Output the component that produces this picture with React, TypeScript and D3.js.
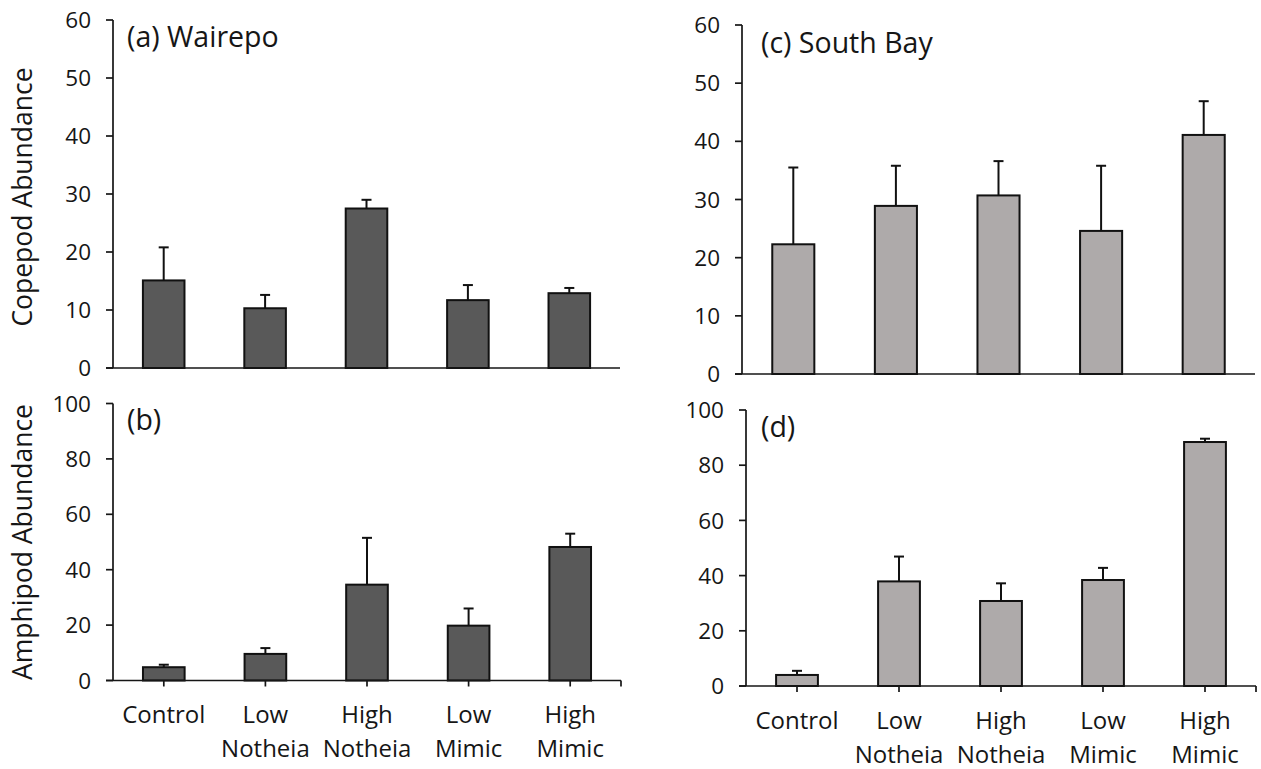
import React from "react";
import * as d3 from "d3";

// Treatment categories (two-line tick labels)
const categories = ["Control", "Low Notheia", "High Notheia", "Low Mimic", "High Mimic"];
const categoryLines = [["Control"], ["Low", "Notheia"], ["High", "Notheia"], ["Low", "Mimic"], ["High", "Mimic"]];

// Wairepo – copepod abundance (mean, +SE)
const wairepoCopepod = [15.1, 10.3, 27.5, 11.7, 12.9];
const wairepoCopepodErr = [5.7, 2.3, 1.5, 2.6, 0.9];

// Wairepo – amphipod abundance (mean, +SE)
const wairepoAmphipod = [4.8, 9.6, 34.6, 19.8, 48.2];
const wairepoAmphipodErr = [0.9, 2.1, 16.9, 6.2, 4.8];

// South Bay – copepod abundance (mean, +SE)
const southBayCopepod = [22.3, 28.9, 30.7, 24.6, 41.1];
const southBayCopepodErr = [13.2, 6.9, 5.9, 11.2, 5.8];

// South Bay – amphipod abundance (mean, +SE)
const southBayAmphipod = [4.0, 37.9, 30.8, 38.4, 88.4];
const southBayAmphipodErr = [1.5, 9.0, 6.4, 4.4, 1.2];

// Y-axis tick values
const copepodTicks = [0, 10, 20, 30, 40, 50, 60];
const amphipodTicks = [0, 20, 40, 60, 80, 100];

const FONT = "'Open Sans', 'Noto Sans', sans-serif";
const INK = "#161616";
const DARK_FILL = "#595959";
const LIGHT_FILL = "#aeaaaa";

type PanelSpec = {
  label: string;
  values: number[];
  errors: number[];
  ticks: number[];
  fill: string;
  x0: number;
  x1: number;
  yTop: number;
  yBottom: number;
  labelX: number;
  labelY: number;
  showCategories: boolean;
  catBaseline: number;
};

const panels: PanelSpec[] = [
  {
    label: "(a) Wairepo", values: wairepoCopepod, errors: wairepoCopepodErr, ticks: copepodTicks,
    fill: DARK_FILL, x0: 113, x1: 620, yTop: 20, yBottom: 368, labelX: 127, labelY: 47,
    showCategories: false, catBaseline: 0,
  },
  {
    label: "(b)", values: wairepoAmphipod, errors: wairepoAmphipodErr, ticks: amphipodTicks,
    fill: DARK_FILL, x0: 113, x1: 621, yTop: 403.5, yBottom: 680.5, labelX: 127, labelY: 430,
    showCategories: true, catBaseline: 723,
  },
  {
    label: "(c) South Bay", values: southBayCopepod, errors: southBayCopepodErr, ticks: copepodTicks,
    fill: LIGHT_FILL, x0: 742, x1: 1255, yTop: 25, yBottom: 374, labelX: 761, labelY: 53,
    showCategories: false, catBaseline: 0,
  },
  {
    label: "(d)", values: southBayAmphipod, errors: southBayAmphipodErr, ticks: amphipodTicks,
    fill: LIGHT_FILL, x0: 746, x1: 1256, yTop: 410, yBottom: 686, labelX: 761, labelY: 437,
    showCategories: true, catBaseline: 729,
  },
];

function Panel({ p }: { p: PanelSpec }) {
  const x = d3.scaleBand<string>()
    .domain(categories)
    .range([p.x0, p.x1])
    .paddingInner(0.59)
    .paddingOuter(0.295);
  const y = d3.scaleLinear()
    .domain([0, p.ticks[p.ticks.length - 1]])
    .range([p.yBottom, p.yTop]);
  const bw = x.bandwidth();
  const capHalf = 5;

  return (
    <g>
      {/* bars */}
      {categories.map((c, i) => (
        <rect
          key={c}
          x={x(c)!}
          y={y(p.values[i])}
          width={bw}
          height={y(0) - y(p.values[i])}
          fill={p.fill}
          stroke="#111"
          strokeWidth={2}
        />
      ))}
      {/* upper error bars */}
      {categories.map((c, i) => {
        const cx = x(c)! + bw / 2;
        const top = y(p.values[i] + p.errors[i]);
        return (
          <g key={c + "-err"} stroke="#111" strokeWidth={2}>
            <line x1={cx} x2={cx} y1={y(p.values[i])} y2={top} />
            <line x1={cx - capHalf} x2={cx + capHalf} y1={top} y2={top} />
          </g>
        );
      })}
      {/* y axis */}
      <line x1={p.x0} x2={p.x0} y1={p.yTop} y2={p.yBottom} stroke={INK} strokeWidth={1.7} />
      {p.ticks.map((t) => (
        <g key={t}>
          <line x1={p.x0 - 7} x2={p.x0} y1={y(t)} y2={y(t)} stroke={INK} strokeWidth={1.7} />
          <text
            x={p.x0 - 22}
            y={y(t)}
            dy="0.36em"
            textAnchor="end"
            fontFamily={FONT}
            fontSize={22.5}
            fill={INK}
          >
            {t}
          </text>
        </g>
      ))}
      {/* x axis */}
      <line x1={p.x0 - 7} x2={p.x1} y1={y(0)} y2={y(0)} stroke={INK} strokeWidth={1.7} />
      {p.showCategories && (
        <g>
          {categories.map((c) => {
            const cx = x(c)! + bw / 2;
            return <line key={c} x1={cx} x2={cx} y1={y(0)} y2={y(0) + 6} stroke={INK} strokeWidth={1.7} />;
          })}
          <line x1={p.x1} x2={p.x1} y1={y(0)} y2={y(0) + 6} stroke={INK} strokeWidth={1.7} />
          {categories.map((c, i) => {
            const cx = x(c)! + bw / 2;
            return (
              <text key={c} x={cx} y={p.catBaseline} textAnchor="middle" fontFamily={FONT} fontSize={24} fill={INK}>
                {categoryLines[i].map((ln, k) => (
                  <tspan key={k} x={cx} y={p.catBaseline + k * 34}>
                    {ln}
                  </tspan>
                ))}
              </text>
            );
          })}
        </g>
      )}
      {/* panel label */}
      <text x={p.labelX} y={p.labelY} fontFamily={FONT} fontSize={28.5} fill={INK}>
        {p.label}
      </text>
    </g>
  );
}

export default function App() {
  return (
    <svg
      width={1261}
      height={769}
      viewBox="0 0 1261 769"
      style={{ position: "absolute", left: 0, top: 0, background: "#fff" }}
    >
      <rect x={0} y={0} width={1261} height={769} fill="#fff" />
      {panels.map((p) => (
        <Panel key={p.label} p={p} />
      ))}
      <text
        transform={`translate(32,${(panels[0].yTop + panels[0].yBottom) / 2 + 3}) rotate(-90)`}
        textAnchor="middle"
        fontFamily={FONT}
        fontSize={26.5}
        fill={INK}
      >
        Copepod Abundance
      </text>
      <text
        transform={`translate(32,${(panels[1].yTop + panels[1].yBottom) / 2}) rotate(-90)`}
        textAnchor="middle"
        fontFamily={FONT}
        fontSize={26.5}
        fill={INK}
      >
        Amphipod Abundance
      </text>
    </svg>
  );
}
